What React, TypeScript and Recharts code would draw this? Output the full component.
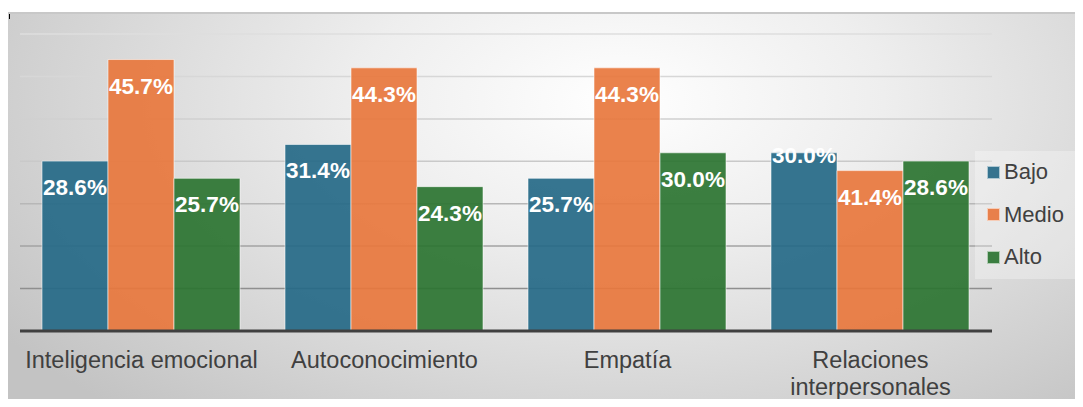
import React from 'react';
import { BarChart, Bar, XAxis, YAxis, CartesianGrid, LabelList } from 'recharts';

const categories = ['Inteligencia emocional', 'Autoconocimiento', 'Empatía', 'Relaciones interpersonales'];
const seriesNames = ['Bajo', 'Medio', 'Alto'];
// bar heights as drawn in the picture (percent)
const bajoValues = [28.6, 31.4, 25.7, 30.0];
const medioValues = [45.7, 44.3, 44.3, 27.0];
const altoValues = [25.7, 24.3, 30.0, 28.6];
// data-label texts as printed in the picture
const bajoLabels = ['28.6%', '31.4%', '25.7%', '30.0%'];
const medioLabels = ['45.7%', '44.3%', '44.3%', '41.4%'];
const altoLabels = ['25.7%', '24.3%', '30.0%', '28.6%'];
const gridTicks = [0, 7.14, 14.29, 21.43, 28.57, 35.71, 42.86, 50];

const data = categories.map((name, i) => ({
  name,
  Bajo: bajoValues[i],
  Medio: medioValues[i],
  Alto: altoValues[i],
}));

const FONT = '"Liberation Sans", Arial, Helvetica, sans-serif';
const COLORS: Record<string, string> = { Bajo: '#256987', Medio: '#e8773d', Alto: '#2b7431' };
const LEGEND_COLORS: Record<string, string> = { Bajo: '#35738f', Medio: '#e8804b', Alto: '#3a7d40' };

let measureCtx: CanvasRenderingContext2D | null = null;
function measure(text: string, font: string) {
  if (!measureCtx) measureCtx = document.createElement('canvas').getContext('2d');
  if (!measureCtx) return text.length * 11;
  measureCtx.font = font;
  return measureCtx.measureText(text).width;
}
function wrapText(text: string, maxW: number, font: string) {
  const words = text.split(' ');
  const lines: string[] = [];
  let cur = '';
  words.forEach((w) => {
    const test = cur ? cur + ' ' + w : w;
    if (cur && measure(test, font) > maxW) {
      lines.push(cur);
      cur = w;
    } else cur = test;
  });
  if (cur) lines.push(cur);
  return lines;
}

const AXIS_FONT_SIZE = 23.5;
const AxisTick = (props: any) => {
  const { x, y, payload } = props;
  const lines = wrapText(payload.value, 240, `${AXIS_FONT_SIZE}px ${FONT}`);
  return (
    <text x={x} y={y + 37} textAnchor="middle" fill="#404040" style={{ fontFamily: FONT, fontSize: AXIS_FONT_SIZE }}>
      {lines.map((l, i) => (
        <tspan key={i} x={x} dy={i === 0 ? 0 : 26.5}>
          {l}
        </tspan>
      ))}
    </text>
  );
};

const makeLabel = (labels: string[], series: string) => (props: any) => {
  const { x, y, width, index } = props;
  const special = series === 'Bajo' && index === 3;
  return (
    <text
      x={x + width / 2}
      y={y + (special ? 10 : 34)}
      textAnchor="middle"
      fill="#ffffff"
      style={{ fontFamily: FONT, fontSize: 22.5, fontWeight: 700 }}
    >
      {labels[index]}
    </text>
  );
};

const LegendBox = () => (
  <div
    style={{
      position: 'absolute',
      left: 975,
      top: 151,
      width: 106,
      height: 128,
      background: 'rgba(255,255,255,0.3)',
      fontFamily: FONT,
    }}
  >
    {seriesNames.map((n, i) => (
      <div
        key={n}
        style={{ position: 'absolute', left: 12, top: 21 + i * 42.5 - 14, height: 28, display: 'flex', alignItems: 'center' }}
      >
        <div
          style={{
            width: 11,
            height: 11,
            background: LEGEND_COLORS[n],
            border: '1px solid rgba(255,255,255,0.6)',
            marginRight: 4,
          }}
        />
        <span style={{ fontSize: 22, color: '#404040', lineHeight: '28px' }}>{n}</span>
      </div>
    ))}
  </div>
);

export default function App() {
  return (
    <div style={{ position: 'relative', width: 1083, height: 407, margin: -8, overflow: 'hidden', background: '#fff' }}>
      <div
        style={{
          position: 'absolute',
          left: 7,
          top: 12,
          width: 1076,
          height: 395,
          borderTop: '2px solid #c8c8c8',
          boxSizing: 'border-box',
          background: 'radial-gradient(ellipse 70% 105% at 57% 22%, #ffffff 0%, #eeeeee 35%, #c3c3c3 100%)',
        }}
      />
      <div style={{ position: 'absolute', left: 9, top: 14, width: 1, height: 5, background: '#000' }} />
      <div style={{ position: 'absolute', left: 0, top: 0 }}>
        <BarChart
          width={1083}
          height={407}
          data={data}
          margin={{ top: 34, right: 91, bottom: 46, left: 20 }}
          barCategoryGap={22}
          barGap={0}
        >
          <defs>
            <linearGradient id="gridGrad" x1="0" y1="34" x2="0" y2="331" gradientUnits="userSpaceOnUse">
              <stop offset="0%" stopColor="#dedede" />
              <stop offset="45%" stopColor="#c8c8c8" />
              <stop offset="100%" stopColor="#7a7a7a" />
            </linearGradient>
          </defs>
          <CartesianGrid vertical={false} stroke="url(#gridGrad)" strokeWidth={1.5} />
          <YAxis hide domain={[0, 50]} ticks={gridTicks} type="number" allowDataOverflow />
          <XAxis
            dataKey="name"
            height={30}
            axisLine={{ stroke: '#404040', strokeWidth: 3 }}
            tickLine={false}
            tickSize={0}
            tickMargin={0}
            interval={0}
            tick={<AxisTick />}
          />
          <Bar dataKey="Bajo" fill={COLORS.Bajo} fillOpacity={0.92} stroke="rgba(255,255,255,0.55)" strokeWidth={1} isAnimationActive={false}>
            <LabelList dataKey="Bajo" content={makeLabel(bajoLabels, 'Bajo')} />
          </Bar>
          <Bar dataKey="Medio" fill={COLORS.Medio} fillOpacity={0.92} stroke="rgba(255,255,255,0.55)" strokeWidth={1} isAnimationActive={false}>
            <LabelList dataKey="Medio" content={makeLabel(medioLabels, 'Medio')} />
          </Bar>
          <Bar dataKey="Alto" fill={COLORS.Alto} fillOpacity={0.92} stroke="rgba(255,255,255,0.55)" strokeWidth={1} isAnimationActive={false}>
            <LabelList dataKey="Alto" content={makeLabel(altoLabels, 'Alto')} />
          </Bar>
        </BarChart>
      </div>
      <LegendBox />
    </div>
  );
}
